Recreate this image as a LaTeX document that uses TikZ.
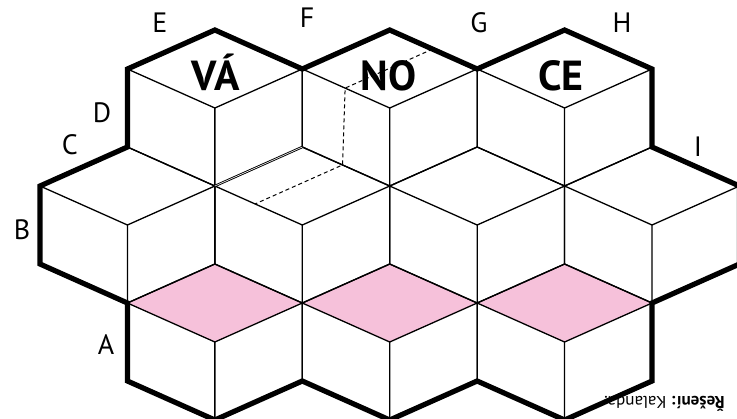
\documentclass[tikz,border=0pt]{standalone}
\usepackage{fontspec}
\setmainfont{PT Sans}
\usepackage{tikz}
\usetikzlibrary{calc}
\definecolor{facepink}{RGB}{246,193,218}
\tikzset{
    edge/.style={line width=1.3pt, line join=miter},
    outline/.style={line width=5.2pt, line join=miter},
    seamedge/.style={double=white, double distance=0.6pt, line width=0.9pt},
    hiddenedge/.style={line width=1pt, dash pattern=on 4pt off 3pt},
    corner/.style={font=\fontsize{28}{30}\selectfont, inner sep=0pt},
    word/.style={font=\fontsize{42}{44}\selectfont\bfseries, inner sep=0pt, anchor=base},
}

\begin{document}
\begin{tikzpicture}[x=87.43pt, y=-39pt]
    \useasboundingbox (-0.4575,-0.7692) rectangle (7.972,9.949);

    % pink tops of the front row
    \foreach \i in {2,4,6}
        \fill[facepink] (\i,6) -- (\i-1,7) -- (\i,8) -- (\i+1,7) -- cycle;

    % the cubes
    \foreach \i/\j in {2/0,4/0,6/0,1/3,3/3,5/3,7/3,2/6,4/6,6/6}
        \draw[edge] (\i,\j) -- (\i-1,\j+1) -- (\i-1,\j+3) -- (\i,\j+4) -- (\i+1,\j+3) -- (\i+1,\j+1) -- cycle
            (\i-1,\j+1) -- (\i,\j+2) -- (\i+1,\j+1) (\i,\j+2) -- (\i,\j+4);

    \draw[seamedge] (3,3) -- (2,4);

    \coordinate (h1) at (4.49,0.49);
    \coordinate (h2) at (3.49,1.49);
    \coordinate (h3) at (3.46,3.46);
    \coordinate (h4) at (2.46,4.46);
    \draw[hiddenedge] (h1) -- (h2) -- (h3) -- (h4);

    % outer border
    \draw[outline] (0,4) -- (1,3) -- (1,1) -- (2,0) -- (3,1) -- (4,0) -- (5,1) -- (6,0) -- (7,1) -- (7,3)
        -- (8,4) -- (8,6) -- (7,7) -- (7,9) -- (6,10) -- (5,9) -- (4,10) -- (3,9) -- (2,10) -- (1,9)
        -- (1,7) -- (0,6) -- cycle;

    \node[word] (va) at (2.01,1.54) {VÁ};
    \node[word] (no) at (3.99,1.54) {NO};
    \node[word] (ce) at (5.96,1.54) {CE};

    \node[corner] (labA) at (0.755,8.077) {A};
    \node[corner] (labB) at (-0.206,5.128) {B};
    \node[corner] (labC) at (0.343,2.949) {C};
    \node[corner] (labD) at (0.709,2.128) {D};
    \node[corner] (labE) at (1.372,-0.179) {E};
    \node[corner] (labF) at (3.054,-0.308) {F};
    \node[corner] (labG) at (5.021,-0.179) {G};
    \node[corner] (labH) at (6.657,-0.179) {H};
    \node[corner] (labI) at (7.526,3.0) {I};

    \node[rotate=180, anchor=base east, inner sep=0pt, font=\fontsize{17}{20}\selectfont] (credit) at (6.45,9.41) {\textbf{Řešení:} Kalanda.};
\end{tikzpicture}
\end{document}
